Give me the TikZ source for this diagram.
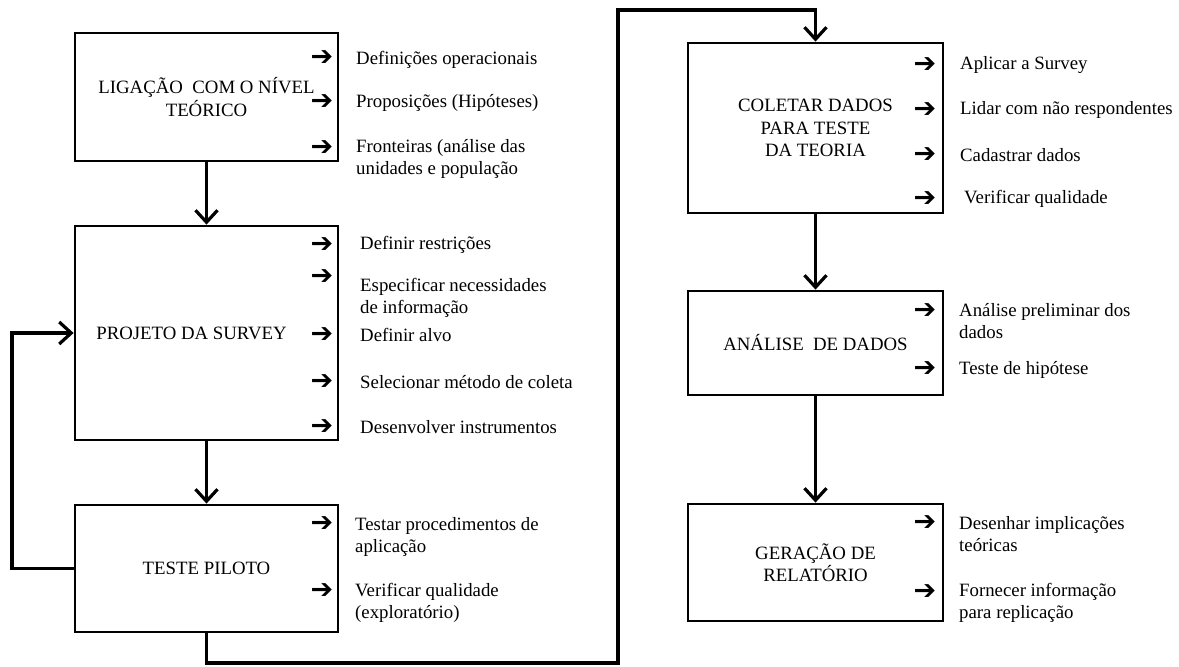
\documentclass[tikz,border=0pt]{standalone}
\usepackage{fontspec}
\setmainfont{Liberation Serif}
\newfontfamily\setafonte{DejaVu Sans}
\usetikzlibrary{arrows.meta,positioning}
\tikzset{
 etapa/.style={draw,line width=2.8pt,inner sep=0pt,align=center,
  font=\fontsize{18.8}{22.5}\selectfont},
 marca/.style={inner sep=0pt,font=\setafonte\fontsize{27}{27}\selectfont},
 item/.style={anchor=west,inner sep=0pt,align=left,
  font=\fontsize{18.8}{22.5}\selectfont},
 fluxo/.style={line width=3.2pt,-{Straight Barb[length=12pt,width=22pt]}},
}

\begin{document}
\begin{tikzpicture}[x=1pt,y=-1pt]
\useasboundingbox (0,0) rectangle (1179,667);
% Coluna da esquerda: nível teórico, projeto e teste piloto.
\node[etapa,minimum width=263pt,minimum height=128pt] (ligacao) at (206.5,97)
 {LIGAÇÃO\ \ COM O NÍVEL\\TEÓRICO};
\node[marca] (s11) at (322,58) {➔};
\node[item] (i11) at (356,60) {Definições operacionais};
\node[marca] (s12) at (322,102) {➔};
\node[item] (i12) at (356,103) {Proposições (Hipóteses)};
\node[marca] (s13) at (322,148) {➔};
\node[item] (i13) at (356,159) {Fronteiras (análise das\\unidades e população};

\node[etapa,minimum width=263pt,minimum height=214pt] (projeto) at (206.5,333)
 {PROJETO DA SURVEY\hspace{30pt}};
\node[marca] (s21) at (322,245) {➔};
\node[item] (i21) at (360,245) {Definir restrições};
\node[marca] (s22) at (322,277) {➔};
\node[item] (i22) at (360,298) {Especificar necessidades\\de informação};
\node[marca] (s23) at (322,335) {➔};
\node[item] (i23) at (360,335) {Definir alvo};
\node[marca] (s24) at (322,382) {➔};
\node[item] (i24) at (360,382) {Selecionar método de coleta};
\node[marca] (s25) at (322,427) {➔};
\node[item] (i25) at (360,427) {Desenvolver instrumentos};

\node[etapa,minimum width=263pt,minimum height=127pt] (piloto) at (206.5,568.5)
 {TESTE PILOTO};
\node[marca] (s31) at (322,524) {➔};
\node[item] (i31) at (355,537) {Testar procedimentos de\\aplicação};
\node[marca] (s32) at (322,591) {➔};
\node[item] (i32) at (355,603) {Verificar qualidade\\(exploratório)};

% Coluna da direita: coleta, análise e relatório.
\node[etapa,minimum width=255pt,minimum height=170pt] (coletar) at (815.5,128)
 {COLETAR DADOS\\PARA TESTE\\DA TEORIA};
\node[marca] (s41) at (925,65) {➔};
\node[item] (i41) at (960,65) {Aplicar a Survey};
\node[marca] (s42) at (925,110) {➔};
\node[item] (i42) at (960,110) {Lidar com não respondentes};
\node[marca] (s43) at (925,155) {➔};
\node[item] (i43) at (960,155) {Cadastrar dados};
\node[marca] (s44) at (925,199) {➔};
\node[item] (i44) at (964,199) {Verificar qualidade};

\node[etapa,minimum width=255pt,minimum height=104pt] (analise) at (815.5,343)
 {ANÁLISE\ \ DE DADOS};
\node[marca] (s51) at (925,311) {➔};
\node[item] (i51) at (959,321) {Análise preliminar dos\\dados};
\node[marca] (s52) at (925,369) {➔};
\node[item] (i52) at (959,370) {Teste de hipótese};

\node[etapa,minimum width=255pt,minimum height=117pt] (geracao) at (815.5,562.5)
 {GERAÇÃO DE\\RELATÓRIO};
\node[marca] (s61) at (925,523) {➔};
\node[item] (i61) at (959,534) {Desenhar implicações\\teóricas};
\node[marca] (s62) at (925,592) {➔};
\node[item] (i62) at (959,603) {Fornecer informação\\para replicação};

% Ligações entre etapas, com o retorno do piloto ao projeto.
\coordinate (retorno) at (12,333);
\coordinate (baixo) at (618,663);
\coordinate (alto) at (618,10);
\draw[fluxo] (ligacao.south) -- (projeto.north);
\draw[fluxo] (projeto.south) -- (piloto.north);
\draw[fluxo] (piloto.west) -| (retorno) -- (projeto.west);
\draw[fluxo] (piloto.south) |- (baixo) -- (alto) -| (coletar.north);
\draw[fluxo] (coletar.south) -- (analise.north);
\draw[fluxo] (analise.south) -- (geracao.north);
\end{tikzpicture}
\end{document}
